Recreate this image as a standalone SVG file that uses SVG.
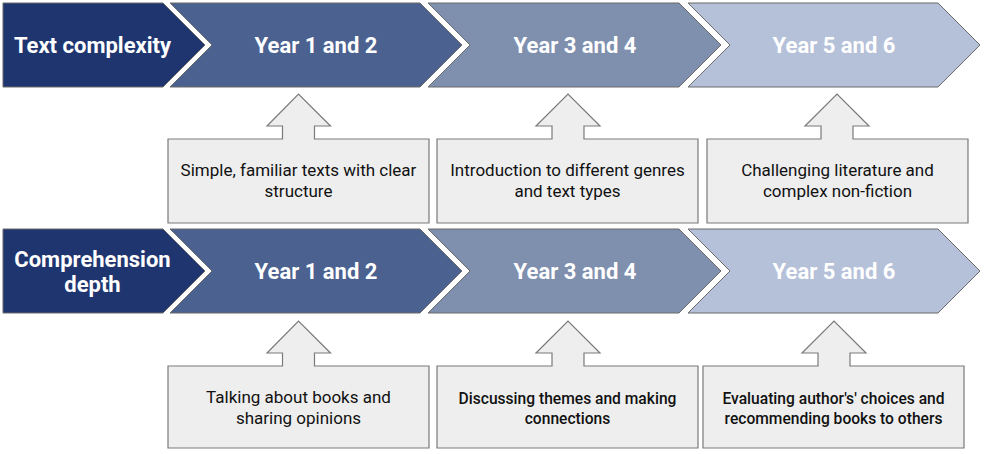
<svg xmlns="http://www.w3.org/2000/svg" width="992" height="454" viewBox="0 0 992 454">
<style>
.chev{stroke:#6b6b6b;stroke-width:1}
.c1{fill:#1f3570}
.c2{fill:#4b6190}
.c3{fill:#7f8fae}
.c4{fill:#b5c0d9}
.hd{font-family:Roboto,"Liberation Sans",sans-serif;font-weight:700;font-size:22px;fill:#ffffff;text-anchor:middle}
.call{fill:#eeeeee;stroke:#7a7a7a;stroke-width:1.2}
.tx{font-family:Roboto,"Liberation Sans",sans-serif;font-size:17px;fill:#111111;text-anchor:middle}
.tm{font-family:Roboto,"Liberation Sans",sans-serif;font-size:15.6px;font-weight:500;fill:#111111;text-anchor:middle}
</style>
<rect width="992" height="454" fill="#ffffff"/>
<g id="row1">
<g id="text-complexity"><polygon class="chev c1" points="3,3 163,3 205,45 163,87 3,87"/><text class="hd" x="92.5" y="53">Text complexity</text></g>
<g id="tc-y12"><polygon class="chev c2" points="170,3 420,3 462,45 420,87 170,87 212,45"/><text class="hd" x="316" y="53">Year 1 and 2</text></g>
<g id="tc-y34"><polygon class="chev c3" points="428,3 679,3 721,45 679,87 428,87 470,45"/><text class="hd" x="575" y="53">Year 3 and 4</text></g>
<g id="tc-y56"><polygon class="chev c4" points="688,3 938,3 980,45 938,87 688,87 730,45"/><text class="hd" x="834" y="53">Year 5 and 6</text></g>
</g>
<g id="row2">
<g id="comprehension-depth"><polygon class="chev c1" points="3,229 163,229 205,271 163,313 3,313"/><text class="hd" x="92.5" y="267">Comprehension</text><text class="hd" x="92.5" y="292">depth</text></g>
<g id="cd-y12"><polygon class="chev c2" points="170,229 420,229 462,271 420,313 170,313 212,271"/><text class="hd" x="316" y="279">Year 1 and 2</text></g>
<g id="cd-y34"><polygon class="chev c3" points="428,229 679,229 721,271 679,313 428,313 470,271"/><text class="hd" x="575" y="279">Year 3 and 4</text></g>
<g id="cd-y56"><polygon class="chev c4" points="688,229 938,229 980,271 938,313 688,313 730,271"/><text class="hd" x="834" y="279">Year 5 and 6</text></g>
</g>
<g id="callouts-top">
<g id="tc-note1"><path class="call" d="M168,139 H282.5 V126 H267 L298.5,94 L330.5,126 H314.5 V139 H429 V223 H168 Z"/><text class="tx" x="298.5" y="176">Simple, familiar texts with clear</text><text class="tx" x="298.5" y="197">structure</text></g>
<g id="tc-note2"><path class="call" d="M437,139 H552 V126 H536 L568,94 L600,126 H584 V139 H698 V223 H437 Z"/><text class="tx" x="567.5" y="176">Introduction to different genres</text><text class="tx" x="567.5" y="197">and text types</text></g>
<g id="tc-note3"><path class="call" d="M707,139 H821 V126 H805 L837,94 L869,126 H853 V139 H968 V223 H707 Z"/><text class="tx" x="837.5" y="176">Challenging literature and</text><text class="tx" x="837.5" y="197">complex non-fiction</text></g>
</g>
<g id="callouts-bottom">
<g id="cd-note1"><path class="call" d="M168,366 H282.5 V353 H267 L298.5,321 L330.5,353 H314.5 V366 H429 V448 H168 Z"/><text class="tx" x="298.5" y="403">Talking about books and</text><text class="tx" x="298.5" y="424">sharing opinions</text></g>
<g id="cd-note2"><path class="call" d="M437,366 H552 V353 H536 L568,321 L600,353 H584 V366 H698 V448 H437 Z"/><text class="tm" x="567.5" y="404">Discussing themes and making</text><text class="tm" x="567.5" y="424">connections</text></g>
<g id="cd-note3"><path class="call" d="M703,366 H818 V353 H802 L834,321 L866,353 H850 V366 H964 V448 H703 Z"/><text class="tm" x="833.5" y="404">Evaluating author's' choices and</text><text class="tm" x="833.5" y="424">recommending books to others</text></g>
</g>
<g id="connectors"/>
</svg>
